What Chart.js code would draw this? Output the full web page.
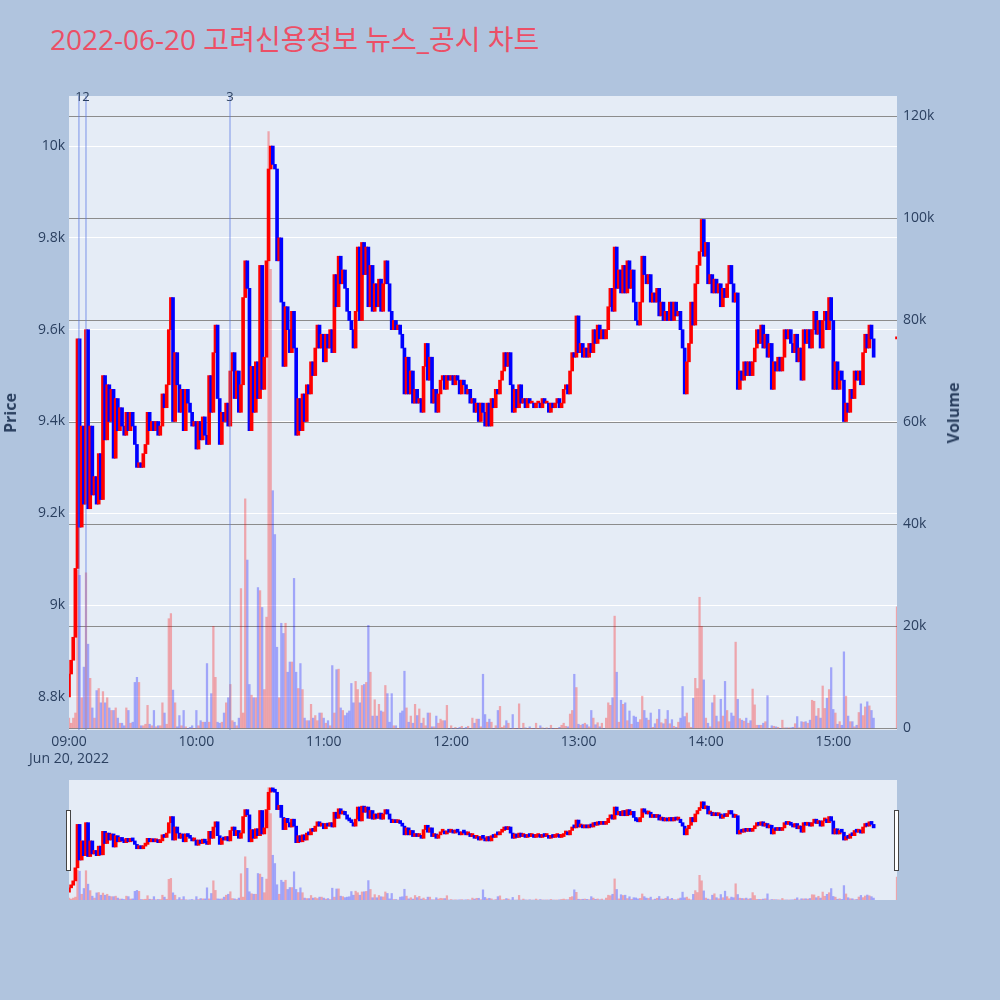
<!DOCTYPE html>
<html>
<head>
<meta charset="utf-8">
<script src="https://cdn.jsdelivr.net/npm/chart.js@4.4.0/dist/chart.umd.min.js"></script>
<style>
  body { margin: 0; width: 1000px; height: 1000px; background: #b0c4de; position: relative; overflow: hidden;
         font-family: "Open Sans", "Noto Sans CJK KR", sans-serif; }
  #title { position: absolute; left: 50px; top: 18px; font-size: 28px; color: #ec4f66; white-space: nowrap; }
  #main { position: absolute; left: 0; top: 0; }
  #slider { position: absolute; left: 69px; top: 780px; background: #e5ecf6; }
  .handle { position: absolute; top: 810px; width: 3px; height: 59px; background: #fff; border: 1px solid #444; }
  .ytitle { position: absolute; font-size: 16px; font-weight: bold; color: #2a3f5f;
            transform: translate(-50%, -50%) rotate(-90deg); white-space: nowrap; }
</style>
</head>
<body>
<div id="title">2022-06-20 고려신용정보 뉴스_공시 차트</div>
<canvas id="main" width="1000" height="780"></canvas>
<canvas id="slider" width="828" height="120"></canvas>
<div class="handle" style="left:66px"></div>
<div class="handle" style="left:894px"></div>
<div class="ytitle" style="left:10px;top:413px">Price</div>
<div class="ytitle" style="left:953px;top:413px">Volume</div>
<script>
// minute bars, 09:00 = minute 0
const firstOpen = 8800;
const closes = [
  8850,8880,8930,9080,9580,9170,9390,9220,9600,9210,
  9390,9240,9280,9220,9330,9230,9500,9360,9480,9400,
  9470,9320,9450,9380,9430,9390,9370,9420,9380,9420,
  9390,9350,9300,9310,9300,9330,9350,9420,9380,9400,
  9380,9400,9370,9390,9460,9430,9480,9600,9670,9400,
  9550,9480,9420,9470,9380,9470,9440,9420,9390,9400,
  9340,9400,9360,9410,9370,9350,9500,9420,9550,9610,
  9450,9350,9420,9400,9440,9390,9510,9550,9450,9510,
  9420,9480,9670,9750,9690,9380,9520,9420,9530,9450,
  9740,9470,9540,9750,9950,10000,9960,9950,9750,9800,
  9660,9520,9650,9600,9550,9640,9560,9370,9450,9380,
  9460,9400,9480,9460,9530,9500,9560,9610,9560,9590,
  9530,9590,9560,9600,9550,9720,9650,9760,9700,9730,
  9690,9640,9620,9600,9560,9640,9780,9620,9790,9720,
  9780,9650,9740,9640,9700,9650,9710,9640,9700,9750,
  9700,9640,9600,9620,9600,9610,9590,9560,9460,9540,
  9460,9510,9440,9470,9440,9450,9420,9520,9570,9490,
  9540,9440,9470,9420,9460,9490,9500,9470,9500,9490,
  9500,9480,9500,9490,9460,9490,9480,9460,9470,9440,
  9450,9420,9440,9400,9440,9420,9390,9440,9390,9450,
  9430,9470,9460,9490,9510,9550,9520,9550,9480,9420,
  9470,9430,9480,9440,9450,9430,9450,9440,9440,9430,
  9440,9440,9430,9450,9440,9440,9420,9440,9430,9440,
  9450,9430,9440,9470,9480,9460,9510,9550,9540,9630,
  9550,9570,9540,9560,9540,9570,9550,9600,9570,9610,
  9580,9600,9580,9600,9650,9690,9640,9780,9690,9730,
  9680,9740,9680,9750,9690,9730,9660,9620,9610,9660,
  9760,9720,9700,9720,9660,9680,9660,9690,9630,9660,
  9620,9640,9620,9660,9620,9660,9630,9640,9600,9560,
  9460,9530,9570,9660,9610,9700,9740,9770,9840,9760,
  9790,9700,9720,9680,9710,9680,9700,9650,9690,9670,
  9700,9740,9700,9660,9680,9470,9510,9490,9530,9500,
  9530,9500,9530,9560,9600,9570,9610,9560,9590,9540,
  9570,9470,9530,9510,9540,9510,9540,9600,9580,9600,
  9570,9550,9590,9530,9560,9490,9600,9570,9600,9560,
  9600,9640,9590,9620,9560,9620,9640,9600,9670,9620,
  9470,9530,9470,9510,9490,9400,9440,9420,9470,9450,
  9510,9490,9510,9480,9550,9590,9560,9610,9580,9540
];
// volume in thousands
const volumes = [
  2,1,2,3,31,30,6,12,30.5,16.5,
  9.8,4,2,7.4,7.8,5,7.2,5,6,4,
  3.5,3.5,4,2,1,1,0.5,4,3.5,1,
  1.2,9,10,9,0.5,0.5,0.8,4.5,0.8,0.5,
  3.5,0.3,0.5,0.5,5,3,0.8,21.5,22.5,7.5,
  5,0.3,2.5,0.5,3.5,0.3,0,0.2,0.5,0,
  3.5,0.5,1.5,1.2,1.2,12.7,1.2,6.8,20,10,
  1.2,1,1.2,3,5,6,8.6,1.5,1.2,0.5,
  2,27.4,3,45,33,8.6,6.5,6,6,27.6,
  27,23.7,7.6,21.8,117,90,46.6,38,15.9,6,
  20.6,18.6,20.6,11,13,13,29.4,11,7.8,12.7,
  7.6,2,1.5,1.5,4.7,2,2.5,1.5,3,3,
  2,1,1.5,0.5,12.3,3,11.5,11.6,4,3.5,
  2.5,3,3.4,8.8,5,9.2,7.6,5,8.4,8.6,
  9,20.2,11,2.4,5.6,2.4,4.7,3.4,3.2,8.4,
  6.8,1.2,6.8,0.5,0.5,0,3,3.4,11.2,4,
  1.2,2.4,1,4.7,2.5,3.8,1,2,0.5,3,
  3,0.3,0.3,2.4,1,1.8,1.5,1.5,4.5,0,
  0.5,0,0.2,0,0.2,0.4,0,0.2,0.4,0,
  2,1,1.8,1.8,0.3,10.6,2.7,1.2,1.8,1.2,
  0,0.5,3.5,4.3,0.2,0.5,1.5,1,0,2.7,
  0,0,4.8,0,1,0.1,0,0.3,0,0,
  1,0,0.5,0.1,0,0.1,0,0.6,0,0,
  0,0.2,0.6,1,0.4,0.3,2.8,3.5,10.6,8,
  0.8,0.6,0.8,1,0.7,0.3,3.5,2,0.7,1.1,
  0.3,1,0,2,5,4.5,6,22,11,1.2,
  5.5,4.7,5,1.5,3.4,0.8,2.4,2.2,1.2,1.7,
  6.3,3.5,2,1.6,3,0.2,0.9,1.8,3.7,1.1,
  0.9,1.8,3.5,0.9,1.7,0.4,0.2,1.2,2,8.2,
  2.3,3,1.1,0.2,5.9,9.8,7.8,25.7,20,9.5,
  2,1,0.3,5,6.5,2.4,1.3,5.7,2.4,9.2,
  3.5,1.3,3,2.4,16.9,5.7,1.9,1.6,1.4,2,
  1,1.5,7.7,4.6,0.6,0.6,0.6,1,1.3,6.4,
  0,0.5,0.4,0.3,0.2,0,1.6,0.1,0.1,0.05,
  0.1,0.2,0.9,2.3,0.1,1.3,1.2,1.3,1,1.6,
  5.5,5.3,2.4,3.9,2,8.3,3.9,5.9,7.6,11.9,
  3.7,3,0.8,1.3,0.6,15,6.3,2.4,1.3,1.3,
  0.3,0.6,3.1,4.8,2.5,4.2,5.2,4.4,3.5,2
];
// closing auction print at 15:30
const auctionMinute = 390;
const auctionPrice = 9580;
const auctionVolume = 23.8;

const hourTicks = [0, 60, 120, 180, 240, 300, 360];
const hourLabels = ['09:00', '10:00', '11:00', '12:00', '13:00', '14:00', '15:00'];
const dateLabel = 'Jun 20, 2022';
const priceTicks = [8800, 9000, 9200, 9400, 9600, 9800, 10000];
const priceLabels = ['8.8k', '9k', '9.2k', '9.4k', '9.6k', '9.8k', '10k'];
const volTicks = [0, 20, 40, 60, 80, 100, 120];
const volLabels = ['0', '20k', '40k', '60k', '80k', '100k', '120k'];

const newsTimes = ['09:04:40', '09:08:00', '10:15:50'];
const newsLabels = ['1', '2', '3'];

const toMinute = t => {
  const p = t.split(':').map(Number);
  return (p[0] - 9) * 60 + p[1] + (p[2] || 0) / 60;
};

const opens = closes.map((c, i) => i === 0 ? firstOpen : closes[i - 1]);
const candleData = closes.map((c, i) => ({ x: i, y: [opens[i], c] }));
candleData.push({ x: auctionMinute, y: [auctionPrice, auctionPrice] });
const upFlags = closes.map((c, i) => c >= opens[i]);
upFlags.push(true);
const volData = volumes.map((v, i) => ({ x: i, y: v }));
volData.push({ x: auctionMinute, y: auctionVolume });

const RED = '#ff0000', BLUE = '#0000ff';
const candleColors = upFlags.map(u => u ? RED : BLUE);
const volColors = upFlags.map(u => u ? 'rgba(255,0,0,0.3)' : 'rgba(0,0,255,0.3)');

Chart.defaults.font.family = '"Open Sans", "Noto Sans CJK KR", sans-serif';
Chart.defaults.font.size = 14;
Chart.defaults.color = '#2a3f5f';

const plotBg = {
  id: 'plotBg',
  beforeDraw(chart) {
    const a = chart.chartArea, ctx = chart.ctx;
    ctx.save();
    ctx.fillStyle = '#e5ecf6';
    ctx.fillRect(a.left, a.top, a.right - a.left, a.bottom - a.top);
    ctx.restore();
  }
};

const newsLines = {
  id: 'newsLines',
  afterDatasetsDraw(chart) {
    const a = chart.chartArea, ctx = chart.ctx, xs = chart.scales.x;
    ctx.save();
    newsTimes.forEach((t, i) => {
      const px = xs.getPixelForValue(toMinute(t));
      ctx.strokeStyle = 'rgba(90,120,230,0.5)';
      ctx.lineWidth = 1.5;
      ctx.beginPath();
      ctx.moveTo(px, a.top);
      ctx.lineTo(px, a.bottom);
      ctx.stroke();
      ctx.fillStyle = '#2a3f5f';
      ctx.font = '13px "Open Sans", sans-serif';
      ctx.textAlign = 'center';
      ctx.textBaseline = 'middle';
      ctx.fillText(newsLabels[i], px, a.top + 1);
    });
    ctx.restore();
  }
};

function makeDatasets(candleW, volW, minLen) {
  return [
    {
      label: 'candles', data: candleData, yAxisID: 'y',
      backgroundColor: candleColors, barThickness: candleW, minBarLength: minLen,
      grouped: false, order: 1
    },
    {
      label: 'volume', data: volData, yAxisID: 'y2',
      backgroundColor: volColors, barThickness: volW,
      grouped: false, order: 2
    }
  ];
}

new Chart(document.getElementById('main'), {
  type: 'bar',
  data: { datasets: makeDatasets(3, 1.6, 2) },
  plugins: [plotBg, newsLines],
  options: {
    responsive: false,
    animation: false,
    devicePixelRatio: 1,
    layout: { padding: { top: 96, left: 0, right: 0, bottom: 0 } },
    plugins: { legend: { display: false }, tooltip: { enabled: false } },
    scales: {
      x: {
        type: 'linear', min: 0, max: 390, offset: false,
        grid: { display: false, drawTicks: false },
        border: { display: false },
        afterFit: s => { s.height = 50; },
        afterBuildTicks: s => { s.ticks = hourTicks.map(v => ({ value: v })); },
        ticks: {
          padding: 3, autoSkip: false, maxRotation: 0,
          font: { size: 14, lineHeight: 1.25 },
          callback: (v) => {
            const i = hourTicks.indexOf(v);
            return i === 0 ? [hourLabels[0], dateLabel] : hourLabels[i];
          }
        }
      },
      y: {
        type: 'linear', position: 'left', min: 8728, max: 10109,
        grid: { color: '#ffffff', lineWidth: 1, drawTicks: false },
        border: { display: false },
        afterFit: s => { s.width = 69; },
        afterBuildTicks: s => { s.ticks = priceTicks.map(v => ({ value: v })); },
        ticks: { padding: 4, callback: v => priceLabels[priceTicks.indexOf(v)] }
      },
      y2: {
        type: 'linear', position: 'right', min: -0.33, max: 124,
        grid: { color: '#8c8c8c', lineWidth: 1, drawTicks: false },
        border: { display: false },
        afterFit: s => { s.width = 103; },
        afterBuildTicks: s => { s.ticks = volTicks.map(v => ({ value: v })); },
        ticks: { padding: 6, callback: v => volLabels[volTicks.indexOf(v)] }
      }
    }
  }
});

// range slider overview
new Chart(document.getElementById('slider'), {
  type: 'bar',
  data: { datasets: makeDatasets(3, 1.6, 3) },
  options: {
    responsive: false,
    animation: false,
    devicePixelRatio: 1,
    layout: { padding: 0 },
    plugins: { legend: { display: false }, tooltip: { enabled: false } },
    scales: {
      x: { type: 'linear', min: 0, max: 390, offset: false, display: false },
      y: { type: 'linear', min: 8710, max: 10091, display: false },
      y2: { type: 'linear', min: 0, max: 125, display: false }
    }
  }
});
</script>
</body>
</html>
